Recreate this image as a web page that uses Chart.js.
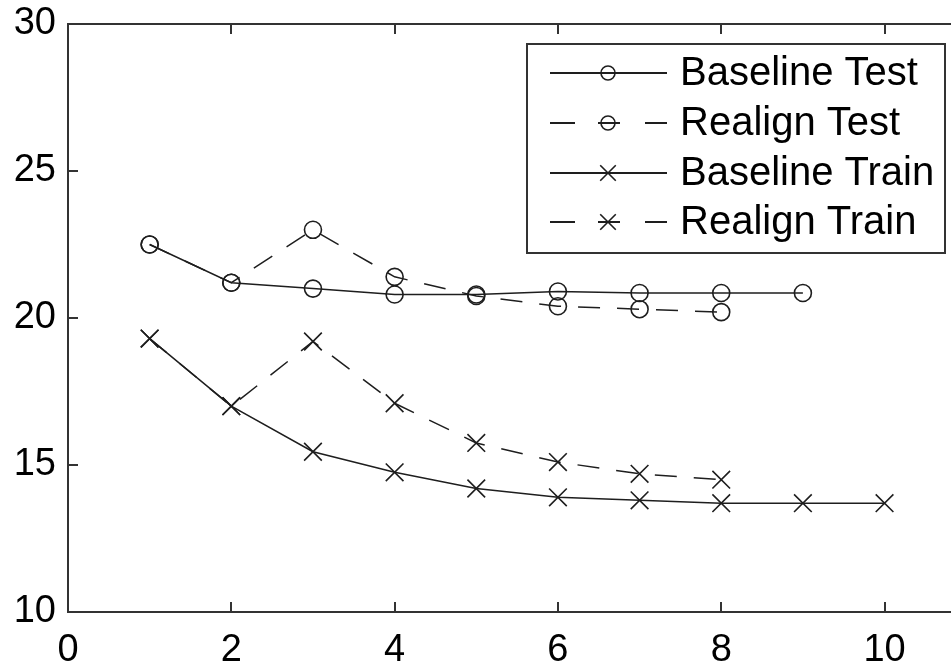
<!DOCTYPE html>
<html>
<head>
<meta charset="utf-8">
<script src="https://cdn.jsdelivr.net/npm/chart.js@4/dist/chart.umd.min.js"></script>
<style>
  html, body { margin: 0; padding: 0; background: #fff; overflow: hidden; }
  #wrap { width: 1085px; height: 665px; }
</style>
</head>
<body>
<div id="wrap"><canvas id="lossChart"></canvas></div>
<script>
// values
const seriesNames = ['Baseline Test', 'Realign Test', 'Baseline Train', 'Realign Train'];
const baselineTest = [22.5, 21.2, 21.0, 20.8, 20.8, 20.9, 20.85, 20.85, 20.85];          // x = 1..9
const realignTest = [22.5, 21.2, 23.0, 21.4, 20.75, 20.4, 20.3, 20.2];                 // x = 1..8
const baselineTrain = [19.3, 17.0, 15.45, 14.75, 14.2, 13.9, 13.8, 13.7, 13.7, 13.7];  // x = 1..10
const realignTrain = [19.3, 17.0, 19.2, 17.1, 15.75, 15.1, 14.7, 14.5];                // x = 1..8
const xTicks = [0, 2, 4, 6, 8, 10, 12];
const yTicks = [10, 15, 20, 25, 30];

const ink = '#1e1e1e';
const axisInk = '#333';
const font = "'Liberation Sans', Arial, Helvetica, sans-serif";
const dash = [22, 17];

function toPoints(vals) {
    return vals.map((v, i) => ({ x: i + 1, y: v }));
}

function makeSet(label, vals, dashed, marker) {
    return {
        label: label,
        data: toPoints(vals),
        borderColor: ink,
        borderWidth: 1.5,
        borderDash: dashed ? dash : [],
        pointStyle: marker,
        pointRadius: marker === 'circle' ? 8.5 : 12.5,
        pointBorderWidth: 1.6,
        pointBorderColor: ink,
        pointBackgroundColor: 'rgba(0,0,0,0)',
        tension: 0,
        fill: false
    };
}

// box round the plot with ticks pointing inward, as matlab does
const framePlugin = {
    id: 'frame',
    afterDraw(chart) {
        const { ctx, chartArea: a, scales } = chart;
        ctx.save();
        ctx.strokeStyle = axisInk;
        ctx.lineWidth = 2;
        ctx.setLineDash([]);
        ctx.strokeRect(a.left, a.top, a.right - a.left, a.bottom - a.top);
        const len = 10;
        ctx.beginPath();
        xTicks.forEach(t => {
            const px = Math.round(scales.x.getPixelForValue(t));
            ctx.moveTo(px, a.bottom); ctx.lineTo(px, a.bottom - len);
            ctx.moveTo(px, a.top); ctx.lineTo(px, a.top + len);
        });
        yTicks.forEach(t => {
            const py = Math.round(scales.y.getPixelForValue(t));
            ctx.moveTo(a.left, py); ctx.lineTo(a.left + len, py);
            ctx.moveTo(a.right, py); ctx.lineTo(a.right - len, py);
        });
        ctx.stroke();
        ctx.restore();
    }
};

// legend box in the upper right of the plot
const legendPlugin = {
    id: 'boxLegend',
    afterDraw(chart) {
        const ctx = chart.ctx;
        const box = { x: 527, y: 44, w: 418, h: 209 };
        const rows = [73, 123, 173, 222];
        ctx.save();
        ctx.fillStyle = '#fff';
        ctx.fillRect(box.x, box.y, box.w, box.h);
        ctx.strokeStyle = axisInk;
        ctx.lineWidth = 2;
        ctx.strokeRect(box.x, box.y, box.w, box.h);
        chart.data.datasets.forEach((ds, i) => {
            const y = rows[i];
            ctx.strokeStyle = ink;
            ctx.lineWidth = 1.8;
            ctx.setLineDash([]);
            ctx.beginPath();
            if (ds.borderDash.length) {
                ctx.moveTo(550, y); ctx.lineTo(575, y);
                ctx.moveTo(598, y); ctx.lineTo(620, y);
                ctx.moveTo(645, y); ctx.lineTo(667, y);
            } else {
                ctx.moveTo(550, y); ctx.lineTo(667, y);
            }
            ctx.stroke();
            ctx.fillStyle = 'rgba(0,0,0,0)';
            ctx.lineWidth = 1.6;
            Chart.helpers.drawPoint(ctx, {
                pointStyle: ds.pointStyle,
                radius: ds.pointStyle === 'circle' ? 7 : 11,
                borderWidth: 1.6,
                rotation: 0
            }, 608, y);
            ctx.fillStyle = '#000';
            ctx.font = '40px ' + font;
            ctx.textAlign = 'left';
            ctx.textBaseline = 'middle';
            ctx.fillText(ds.label, 680, y + 1);
        });
        ctx.restore();
    }
};

const ctx = document.getElementById('lossChart').getContext('2d');
const lossChart = new Chart(ctx, {
    type: 'line',
    data: {
        datasets: [
            makeSet(seriesNames[0], baselineTest, false, 'circle'),
            makeSet(seriesNames[1], realignTest, true, 'circle'),
            makeSet(seriesNames[2], baselineTrain, false, 'crossRot'),
            makeSet(seriesNames[3], realignTrain, true, 'crossRot')
        ]
    },
    options: {
        responsive: true,
        maintainAspectRatio: false,
        animation: false,
        devicePixelRatio: 1,
        layout: { padding: { left: 0, top: 24, right: 23, bottom: 0 } },
        plugins: {
            legend: { display: false },
            tooltip: { enabled: false }
        },
        scales: {
            x: {
                type: 'linear',
                min: 0,
                max: 12,
                afterFit(scale) { scale.height = 53; },
                afterBuildTicks(scale) { scale.ticks = xTicks.map(v => ({ value: v })); },
                grid: { display: false, drawTicks: false, tickLength: 0 },
                border: { display: false },
                ticks: {
                    color: '#000',
                    padding: 16,
                    maxRotation: 0,
                    font: { family: font, size: 38 }
                }
            },
            y: {
                min: 10,
                max: 30,
                afterFit(scale) { scale.width = 68; },
                afterBuildTicks(scale) { scale.ticks = yTicks.map(v => ({ value: v })); },
                grid: { display: false, drawTicks: false, tickLength: 0 },
                border: { display: false },
                ticks: {
                    color: '#000',
                    padding: 12,
                    font: { family: font, size: 38, lineHeight: 0.6 }
                }
            }
        }
    },
    plugins: [framePlugin, legendPlugin]
});
</script>
</body>
</html>
